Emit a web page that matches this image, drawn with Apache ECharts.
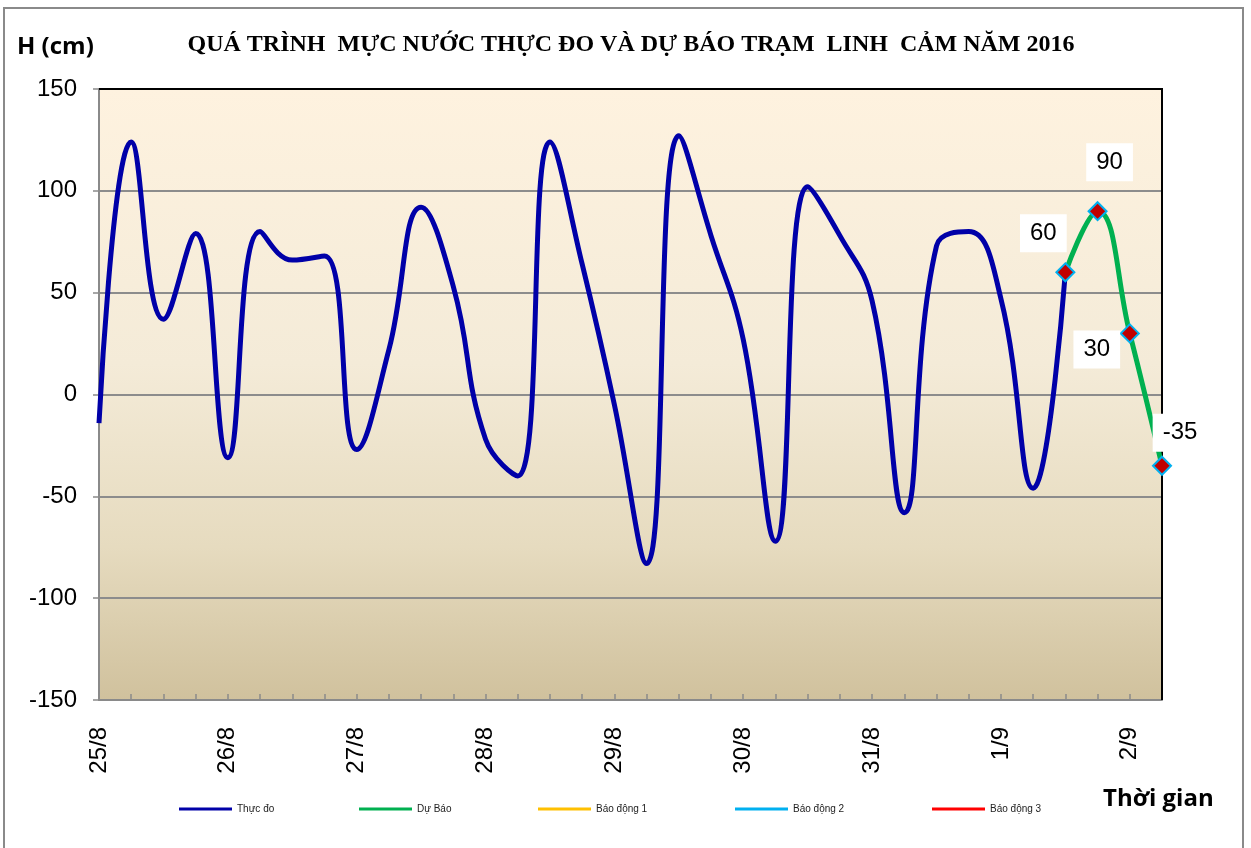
<!DOCTYPE html>
<html>
<head>
<meta charset="utf-8">
<script src="https://cdn.jsdelivr.net/npm/echarts@6/dist/echarts.min.js"></script>
<style>
html,body{margin:0;padding:0;background:#fff;}
#chart{width:1251px;height:848px;}
</style>
</head>
<body>
<div id="chart"></div>
<script>
// ---- data ----
const days = ['25/8','26/8','27/8','28/8','29/8','30/8','31/8','1/9','2/9'];
const hours = ['01h','07h','13h','19h'];
const titleText = 'QUÁ TRÌNH  MỰC NƯỚC THỰC ĐO VÀ DỰ BÁO TRẠM  LINH  CẢM NĂM 2016';
const seriesNames = ['Thực đo','Dự Báo','Báo động 1','Báo động 2','Báo động 3'];
const measured = [-14,124,37,79,-31,80,66,68,-27,22,92,53,-22,-40,124,64,-5,-83,127,78,27,-72,102,78,46,-58,73,80,47,-46,60];
const forecast = [60,90,30,-35];
const forecastStart = 30;
const alarm1 = [];
const alarm2 = [];
const alarm3 = [];
const yTicks = {min:-150,max:150,interval:50};

// categories: 6-hourly steps
const categories = [];
for (let d = 0; d < days.length; d++) {
  for (let h = 0; h < hours.length; h++) {
    categories.push(days[d] + ' ' + hours[h]);
  }
}
const cats = categories.slice(0, forecastStart + forecast.length);

const measuredData = cats.map((c,i)=> i < measured.length ? measured[i] : '-');
const forecastData = cats.map((c,i)=> (i >= forecastStart && i < forecastStart + forecast.length) ? forecast[i-forecastStart] : '-');
const labelOffsets = [[-22,-39],[12,-49],[-33,16],[18,-33]];
const forecastItems = forecastData.map((v,i)=>{
  if (v === '-') return v;
  const k = i - forecastStart;
  return {value:v, label:{offset:labelOffsets[k]}};
});

const chart = echarts.init(document.getElementById('chart'));
const FONT = '"Liberation Sans", Arial, sans-serif';

const legendPos = [179, 359, 538, 735, 932];
const legendColors = ['#0000A8','#00B050','#FFC000','#00B0F0','#FF0000'];

chart.setOption({
  animation:false,
  title:{
    text:titleText,
    left:626, top:28, textAlign:'center',
    textStyle:{fontFamily:'"Liberation Serif", "Times New Roman", serif', fontWeight:'bold', fontSize:24, color:'#000'}
  },
  legend: seriesNames.map((n,i)=>({
    data:[{name:n, icon:'rect', itemStyle:{color:legendColors[i], borderWidth:0}}],
    left:legendPos[i], top:804, padding:0,
    itemWidth:53, itemHeight:3,
    textStyle:{fontFamily:FONT, fontSize:10, color:'#222'},
    itemGap:4
  })),
  grid:{left:99, top:89, right:89, bottom:148, show:true, borderWidth:0,
    backgroundColor:new echarts.graphic.LinearGradient(0,0,0,1,[
      {offset:0,color:'#FEF2DF'},
      {offset:0.45,color:'#F4EBD8'},
      {offset:0.75,color:'#E6DBBF'},
      {offset:1,color:'#D0C19D'}
    ])},
  xAxis:{
    type:'category', data:cats, boundaryGap:false,
    axisLine:{onZero:false, lineStyle:{color:'#8a8a8a', width:2}},
    axisTick:{inside:true, length:6, interval:0, lineStyle:{color:'#8a8a8a', width:1.5}},
    axisLabel:{interval:3, rotate:90, margin:27, fontFamily:FONT, fontSize:24, color:'#000',
      formatter:v=>v.split(' ')[0]},
    splitLine:{show:false}
  },
  yAxis:{
    type:'value', min:yTicks.min, max:yTicks.max, interval:yTicks.interval,
    axisLine:{show:true, lineStyle:{color:'#8a8a8a', width:2}},
    axisTick:{show:true, inside:false, length:6, lineStyle:{color:'#8a8a8a', width:1.5}},
    axisLabel:{margin:22, fontFamily:FONT, fontSize:24, color:'#000'},
    splitLine:{show:true, lineStyle:{color:'#8c8c8c', width:2}}
  },
  series:[
    {name:seriesNames[0], type:'line', data:measuredData, smooth:0.45, showSymbol:false, symbol:'none',
      color:'#0000A8', lineStyle:{color:'#0000A8', width:5}, z:3},
    {name:seriesNames[1], type:'line', data:forecastItems, smooth:0.45, symbol:'diamond', symbolSize:18, showAllSymbol:true,
      color:'#00B050',
      lineStyle:{color:'#00B050', width:5},
      itemStyle:{color:'#C00000', borderColor:'#00B0F0', borderWidth:2},
      label:{show:true, position:'inside', fontFamily:FONT, fontSize:24, color:'#000',
        backgroundColor:'#fff', padding:[8,10,6,10]},
      z:4},
    {name:seriesNames[2], type:'line', data:alarm1, color:'#FFC000', lineStyle:{color:'#FFC000', width:2}},
    {name:seriesNames[3], type:'line', data:alarm2, color:'#00B0F0', lineStyle:{color:'#00B0F0', width:2}},
    {name:seriesNames[4], type:'line', data:alarm3, color:'#FF0000', lineStyle:{color:'#FF0000', width:2}}
  ],
  graphic:[
    {type:'rect', shape:{x:4, y:8, width:1239, height:860}, style:{fill:null, stroke:'#8a8a8a', lineWidth:2}, silent:true, z:-10},
    {type:'polyline', shape:{points:[[99,89],[1162,89],[1162,700]]}, style:{stroke:'#000', lineWidth:2, fill:null}, z:3},
    {type:'text', x:17, y:47, style:{text:'H (cm)', font:'bold 24px "Open Sans", sans-serif', fill:'#000', verticalAlign:'middle'}},
    {type:'text', x:1103, y:799, style:{text:'Thời gian', font:'bold 24px "Open Sans", sans-serif', fill:'#000', verticalAlign:'middle'}}
  ]
});
</script>
</body>
</html>
